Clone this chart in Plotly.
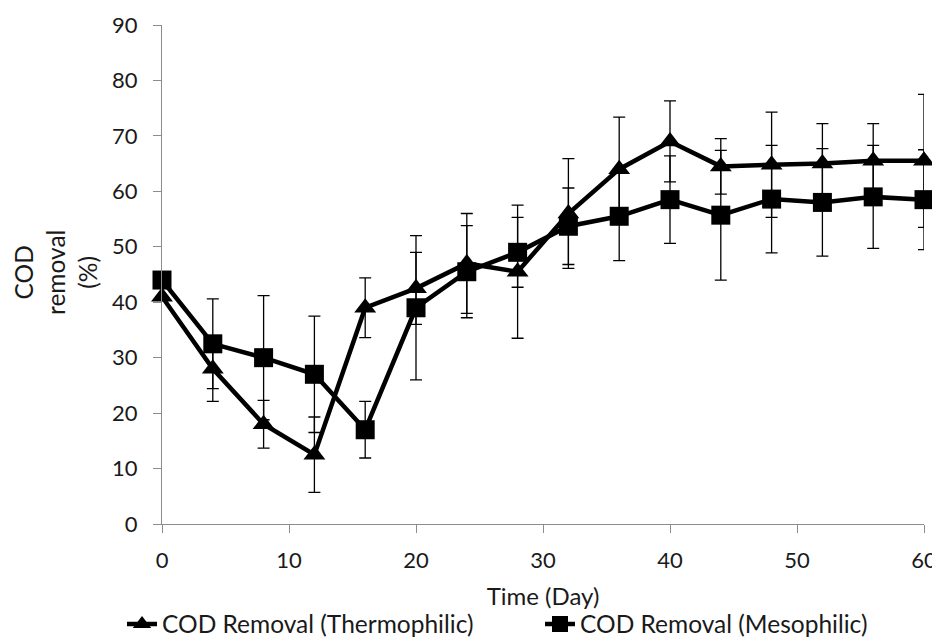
import plotly.graph_objects as go

days = [0, 4, 8, 12, 16, 20, 24, 28, 32, 36, 40, 44, 48, 52, 56, 60]
thermo = [41, 28, 18, 12.5, 39, 42.5, 47, 45.5, 56, 64, 69, 64.5, 64.8, 65, 65.5, 65.5]
thermo_err = [0, 5.9, 4.3, 6.8, 5.4, 6.5, 9, 12, 9.9, 9.4, 7.3, 5, 9.5, 7.2, 6.7, 12]
meso = [44, 32.5, 30, 27, 17, 39, 45.5, 49, 53.7, 55.5, 58.5, 55.7, 58.6, 58, 59, 58.5]
meso_err = [0, 8.1, 11.2, 10.5, 5.1, 13, 8.3, 6.3, 6.9, 8, 7.9, 11.7, 9.7, 9.7, 9.3, 9]

font = "Lato"
# the page body has an 8px margin, so the figure is offset by (8, 8)
W, H = 932, 631
L, R, T, B = 154, 16, 17, 115
pw, ph = W - L - R, H - T - B
X0, Y0 = 162, 524  # page position of the plot's bottom-left corner

fig = go.Figure()
fig.add_trace(go.Scatter(
    x=days, y=thermo, mode="lines+markers", name="COD Removal (Thermophilic)",
    line=dict(color="black", width=4.5),
    marker=dict(symbol="triangle-up", size=19, color="black"),
    error_y=dict(type="data", array=thermo_err, visible=True, color="black", thickness=1.3, width=6),
    cliponaxis=False,
))
fig.add_trace(go.Scatter(
    x=days, y=meso, mode="lines+markers", name="COD Removal (Mesophilic)",
    line=dict(color="black", width=4.5),
    marker=dict(symbol="square", size=19, color="black"),
    error_y=dict(type="data", array=meso_err, visible=True, color="black", thickness=1.3, width=6),
    cliponaxis=False,
))

fig.update_layout(
    width=W, height=H,
    margin=dict(l=L, r=R, t=T, b=B, autoexpand=False),
    paper_bgcolor="white", plot_bgcolor="white",
    font=dict(family=font, size=22, color="#1a1a1a"),
    showlegend=True,
    legend=dict(orientation="h", x=(122 - X0) / pw, xanchor="left",
                y=(Y0 - 624) / ph, yanchor="middle",
                font=dict(size=24.5), itemwidth=30, entrywidth=373, entrywidthmode="pixels"),
    xaxis=dict(range=[0, 60], tickvals=[0, 10, 20, 30, 40, 50, 60], showgrid=False, zeroline=False,
               showline=True, linecolor="#8c8c8c", linewidth=1.3, ticks="outside", ticklen=8,
               tickcolor="#8c8c8c", tickwidth=1.3, ticklabelstandoff=8,
               title=dict(text="Time (Day)", standoff=16, font=dict(size=24))),
    yaxis=dict(range=[0, 90], tickvals=list(range(0, 91, 10)), showgrid=False, zeroline=False,
               showline=True, linecolor="#8c8c8c", linewidth=1.3, ticks="outside", ticklen=8,
               tickcolor="#8c8c8c", tickwidth=1.3, ticklabelstandoff=11),
    annotations=[dict(text="COD<br>removal<br>(%)", textangle=-90,
                      x=(55 - X0) / pw, y=(Y0 - 273) / ph, xref="paper", yref="paper",
                      xanchor="center", yanchor="middle",
                      showarrow=False, font=dict(size=24.5), align="center")],
)

fig.write_html("out.html")
